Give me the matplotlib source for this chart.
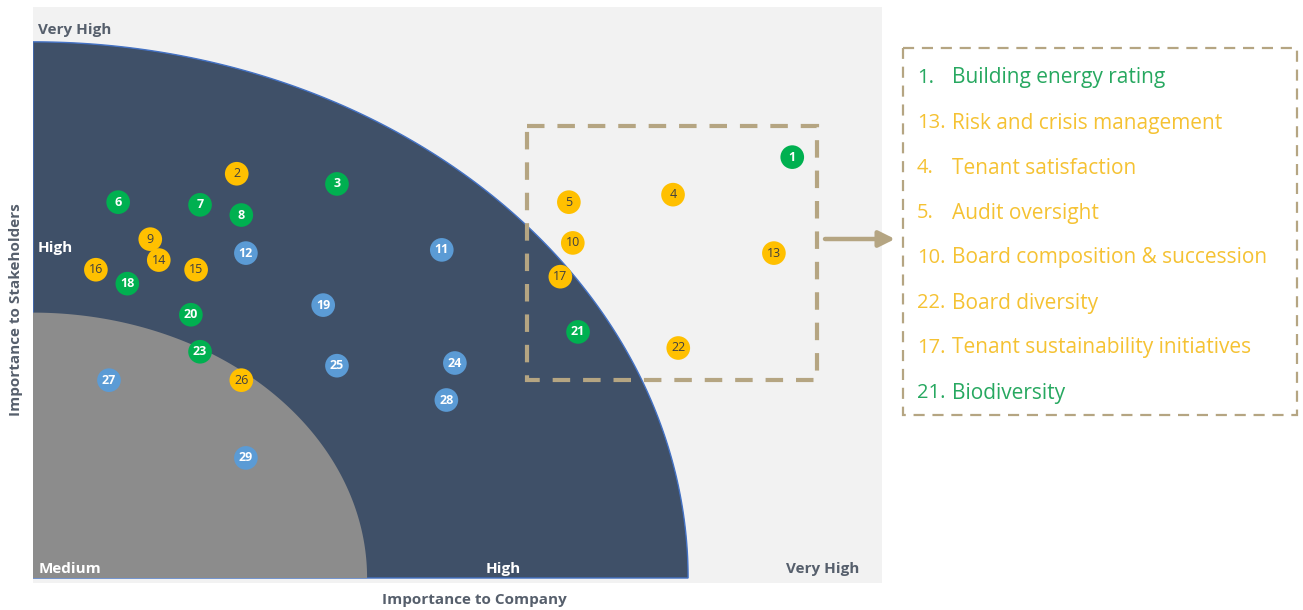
import numpy as np
import matplotlib.pyplot as plt
from matplotlib.patches import Polygon, Rectangle

plt.rcParams["font.family"] = ["Open Sans", "DejaVu Sans"]

# Materiality topics: id, importance to company (x), importance to stakeholders (y)
topic_ids = [1, 2, 3, 4, 5, 6, 7, 8, 9, 10, 11, 12, 13, 14, 15,
             16, 17, 18, 19, 20, 21, 22, 23, 24, 25, 26, 27, 28, 29]
company = [11.59, 3.11, 4.64, 9.77, 8.18, 1.30, 2.55, 3.18, 1.79, 8.24,
           6.24, 3.25, 11.31, 1.92, 2.49, 0.96, 8.05, 1.44, 4.43, 2.41,
           8.32, 9.85, 2.55, 6.44, 4.64, 3.18, 1.16, 6.31, 3.25]
stakeholders = [7.85, 7.54, 7.35, 7.15, 7.01, 7.01, 6.96, 6.77, 6.32, 6.25,
                6.12, 6.06, 6.06, 5.93, 5.75, 5.75, 5.62, 5.49, 5.09, 4.91,
                4.59, 4.29, 4.22, 4.01, 3.96, 3.69, 3.69, 3.32, 2.24]
pillar = ["E", "G", "E", "G", "G", "E", "E", "E", "G", "G",
          "S", "S", "G", "G", "G", "G", "G", "E", "S", "E",
          "E", "G", "E", "S", "S", "G", "S", "S", "S"]

# Topics called out in the side panel
legend_nums = ["1.", "13.", "4.", "5.", "10.", "22.", "17.", "21."]
legend_text = ["Building energy rating", "Risk and crisis management",
               "Tenant satisfaction", "Audit oversight",
               "Board composition & succession", "Board diversity",
               "Tenant sustainability initiatives", "Biodiversity"]
legend_pillar = ["E", "G", "G", "G", "G", "G", "G", "E"]

# Band radii (same scale as the axes)
HIGH_R = (10.0, 10.0)
MEDIUM_R = (5.1, 4.95)

MARK_COLOR = {"E": "#00b050", "G": "#ffc000", "S": "#5b9bd5"}
NUM_COLOR = {"E": "white", "G": "#404040", "S": "white"}
LEGEND_COLOR = {"E": "#27a860", "G": "#f5c233"}
TAN = "#b5a582"
LABEL_GREY = "#565f6c"

W, H = 1303, 610
fig = plt.figure(figsize=(W / 100, H / 100), dpi=100)
fig.patch.set_facecolor("white")

ax = fig.add_axes([33 / W, (H - 583) / H, 849 / W, 576 / H])
ax.set_xlim(0, 12.96)
ax.set_ylim(-0.093, 10.65)
ax.set_facecolor("#f2f2f2")
ax.set_xticks([])
ax.set_yticks([])
for s in ax.spines.values():
    s.set_visible(False)


def quarter(rx, ry):
    t = np.linspace(0, np.pi / 2, 200)
    pts = np.column_stack([rx * np.cos(t), ry * np.sin(t)])
    return np.vstack([[0, 0], pts])


ax.add_patch(Polygon(quarter(*HIGH_R), closed=True, facecolor="#3f5068",
                     edgecolor="#4472c4", lw=1.0, zorder=1))
ax.add_patch(Polygon(quarter(*MEDIUM_R), closed=True, facecolor="#8c8c8c",
                     edgecolor="none", zorder=2))

cols = [MARK_COLOR[p] for p in pillar]
ax.scatter(company, stakeholders, s=290, c=cols, linewidths=0, zorder=3)
for n, x, y, p in zip(topic_ids, company, stakeholders, pillar):
    ax.text(x, y, str(n), ha="center", va="center", fontsize=9,
            color=NUM_COLOR[p], fontweight="bold" if p != "G" else "normal",
            zorder=4)

# Overlay in pixel coordinates for annotations and the call-out panel
ov = fig.add_axes([0, 0, 1, 1])
ov.set_xlim(0, W)
ov.set_ylim(H, 0)
ov.axis("off")
ov.patch.set_alpha(0)

lab = dict(fontsize=11, fontweight="bold", va="center")
ov.text(38, 30, "Very High", color=LABEL_GREY, **lab)
ov.text(38, 248, "High", color="white", **lab)
ov.text(39, 569, "Medium", color="white", **lab)
ov.text(486, 569, "High", color="white", **lab)
ov.text(859, 569, "Very High", color=LABEL_GREY, ha="right",
        fontsize=11, fontweight="bold", va="center")

ov.text(16, 310, "Importance to Stakeholders", rotation=90, ha="center",
        va="center", fontsize=11, fontweight="bold", color=LABEL_GREY)
ov.text(474, 600, "Importance to Company", ha="center", va="center",
        fontsize=11, fontweight="bold", color=LABEL_GREY)

# Highlight box around the priority topics
ov.add_patch(Rectangle((527, 126), 290, 254, fill=False, edgecolor=TAN,
                       lw=3, linestyle=(0, (4.2, 3.1))))
ov.annotate("", xy=(895, 239), xytext=(825, 239),
            arrowprops=dict(arrowstyle="-|>", color=TAN, lw=3.2,
                            mutation_scale=24, shrinkA=0, shrinkB=0))

# Call-out panel
ov.add_patch(Rectangle((903, 48), 394, 367, facecolor="white", edgecolor=TAN,
                       lw=1.6, linestyle=(0, (5, 3.5))))
for i, (num, txt, p) in enumerate(zip(legend_nums, legend_text, legend_pillar)):
    y = 78 + i * 45
    ov.text(917, y, num, color=LEGEND_COLOR[p], fontsize=14.5, va="center")
    ov.text(952, y, txt, color=LEGEND_COLOR[p], fontsize=15, va="center")

fig.savefig("out.png", dpi=100)
